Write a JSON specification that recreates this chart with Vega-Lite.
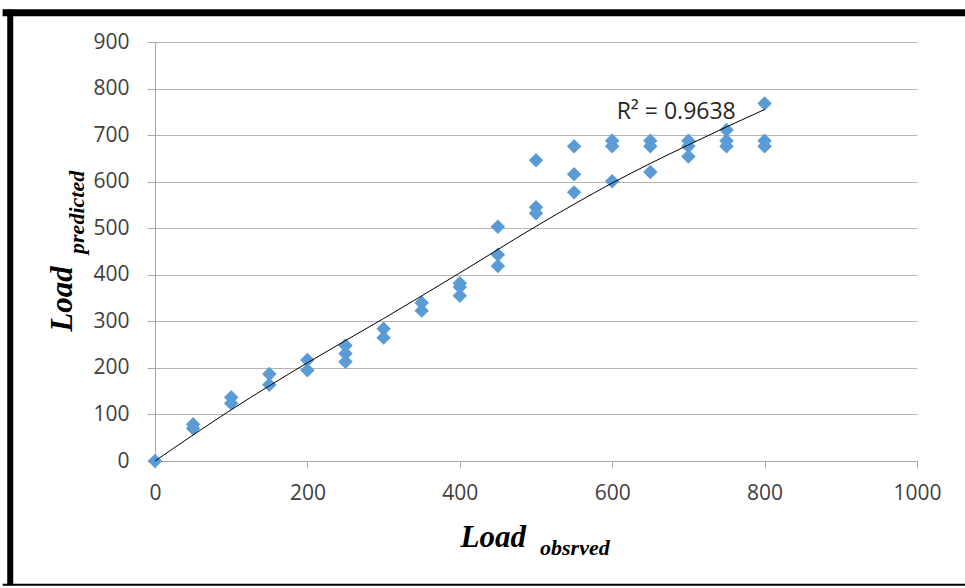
{
  "$schema": "https://vega.github.io/schema/vega-lite/v6.json",
  "width": 762,
  "height": 419,
  "autosize": {"type": "none"},
  "padding": {"left": 155, "top": 42, "right": 48, "bottom": 127},
  "background": "white",
  "config": {
    "view": {"stroke": null},
    "axis": {
      "labelFont": "Open Sans",
      "labelFontSize": 21,
      "labelColor": "#404040",
      "labelFlush": false,
      "labelOverlap": false,
      "gridColor": "#b5b5b5",
      "gridWidth": 1,
      "domainColor": "#a6a6a6",
      "tickColor": "#a6a6a6",
      "tickSize": 7
    }
  },
  "datasets": {
    "points": [
      {"observed": 0, "predicted": 0},
      {"observed": 50, "predicted": 79},
      {"observed": 50, "predicted": 70},
      {"observed": 100, "predicted": 137},
      {"observed": 100, "predicted": 124},
      {"observed": 150, "predicted": 187},
      {"observed": 150, "predicted": 164},
      {"observed": 200, "predicted": 217},
      {"observed": 200, "predicted": 195},
      {"observed": 250, "predicted": 248},
      {"observed": 250, "predicted": 231},
      {"observed": 250, "predicted": 213},
      {"observed": 300, "predicted": 284},
      {"observed": 300, "predicted": 265},
      {"observed": 350, "predicted": 340},
      {"observed": 350, "predicted": 323},
      {"observed": 400, "predicted": 382},
      {"observed": 400, "predicted": 374},
      {"observed": 400, "predicted": 355},
      {"observed": 450, "predicted": 503},
      {"observed": 450, "predicted": 443},
      {"observed": 450, "predicted": 419},
      {"observed": 500, "predicted": 646},
      {"observed": 500, "predicted": 545},
      {"observed": 500, "predicted": 532},
      {"observed": 550, "predicted": 676},
      {"observed": 550, "predicted": 616},
      {"observed": 550, "predicted": 577},
      {"observed": 600, "predicted": 688},
      {"observed": 600, "predicted": 676},
      {"observed": 600, "predicted": 601},
      {"observed": 650, "predicted": 688},
      {"observed": 650, "predicted": 676},
      {"observed": 650, "predicted": 621},
      {"observed": 700, "predicted": 688},
      {"observed": 700, "predicted": 676},
      {"observed": 700, "predicted": 654},
      {"observed": 750, "predicted": 711},
      {"observed": 750, "predicted": 688},
      {"observed": 750, "predicted": 676},
      {"observed": 800, "predicted": 768},
      {"observed": 800, "predicted": 688},
      {"observed": 800, "predicted": 676}
    ],
    "trend": [
      {"observed": 0, "predicted": 0},
      {"observed": 100, "predicted": 110},
      {"observed": 200, "predicted": 211},
      {"observed": 300, "predicted": 306},
      {"observed": 400, "predicted": 404},
      {"observed": 500, "predicted": 504},
      {"observed": 600, "predicted": 597},
      {"observed": 700, "predicted": 679},
      {"observed": 800, "predicted": 755}
    ],
    "one": [{"k": 1}]
  },
  "layer": [
    {
      "data": {"name": "points"},
      "mark": {"type": "point", "shape": "diamond", "filled": true, "size": 210, "color": "#5b9bd5", "opacity": 1},
      "encoding": {
        "x": {"field": "observed", "type": "quantitative", "scale": {"domain": [0, 1000], "nice": false},
          "axis": {"values": [0, 200, 400, 600, 800, 1000], "format": "d", "grid": false, "title": null, "labelPadding": 14}},
        "y": {"field": "predicted", "type": "quantitative", "scale": {"domain": [0, 900], "nice": false},
          "axis": {"values": [0, 100, 200, 300, 400, 500, 600, 700, 800, 900], "grid": true, "title": null, "labelPadding": 18, "tickSize": 8}}
      }
    },
    {
      "data": {"name": "trend"},
      "mark": {"type": "line", "color": "#000000", "strokeWidth": 1, "interpolate": "monotone"},
      "encoding": {
        "x": {"field": "observed", "type": "quantitative"},
        "y": {"field": "predicted", "type": "quantitative"}
      }
    },
    {
      "data": {"name": "one"},
      "mark": {"type": "text", "font": "Open Sans", "fontSize": 23, "color": "#262626", "align": "center", "baseline": "middle"},
      "encoding": {"x": {"datum": 684}, "y": {"datum": 750}, "text": {"value": "R² = 0.9638"}}
    },
    {
      "data": {"name": "one"},
      "mark": {"type": "text", "font": "Liberation Serif", "fontSize": 31, "fontWeight": "bold", "fontStyle": "italic", "color": "#000000", "align": "center", "baseline": "middle"},
      "encoding": {"x": {"datum": 444}, "y": {"datum": -166}, "text": {"value": "Load"}}
    },
    {
      "data": {"name": "one"},
      "mark": {"type": "text", "font": "Liberation Serif", "fontSize": 22, "fontWeight": "bold", "fontStyle": "italic", "color": "#000000", "align": "center", "baseline": "middle"},
      "encoding": {"x": {"datum": 551}, "y": {"datum": -187}, "text": {"value": "obsrved"}}
    },
    {
      "data": {"name": "one"},
      "mark": {"type": "text", "font": "Liberation Serif", "fontSize": 31, "fontWeight": "bold", "fontStyle": "italic", "color": "#000000", "align": "center", "baseline": "middle", "angle": 270},
      "encoding": {"x": {"datum": -121}, "y": {"datum": 348}, "text": {"value": "Load"}}
    },
    {
      "data": {"name": "one"},
      "mark": {"type": "text", "font": "Liberation Serif", "fontSize": 22, "fontWeight": "bold", "fontStyle": "italic", "color": "#000000", "align": "center", "baseline": "middle", "angle": 270},
      "encoding": {"x": {"datum": -102}, "y": {"datum": 534}, "text": {"value": "predicted"}}
    },
    {
      "data": {"name": "one"},
      "mark": {"type": "rule", "color": "#000000", "strokeWidth": 7},
      "encoding": {"x": {"datum": -200}, "x2": {"datum": 1070}, "y": {"datum": 963}}
    },
    {
      "data": {"name": "one"},
      "mark": {"type": "rule", "color": "#000000", "strokeWidth": 6},
      "encoding": {"x": {"datum": -190}, "y": {"datum": 970}, "y2": {"datum": -267}}
    },
    {
      "data": {"name": "one"},
      "mark": {"type": "rule", "color": "#000000", "strokeWidth": 2},
      "encoding": {"x": {"datum": -200}, "x2": {"datum": 1070}, "y": {"datum": -266}}
    }
  ]
}
